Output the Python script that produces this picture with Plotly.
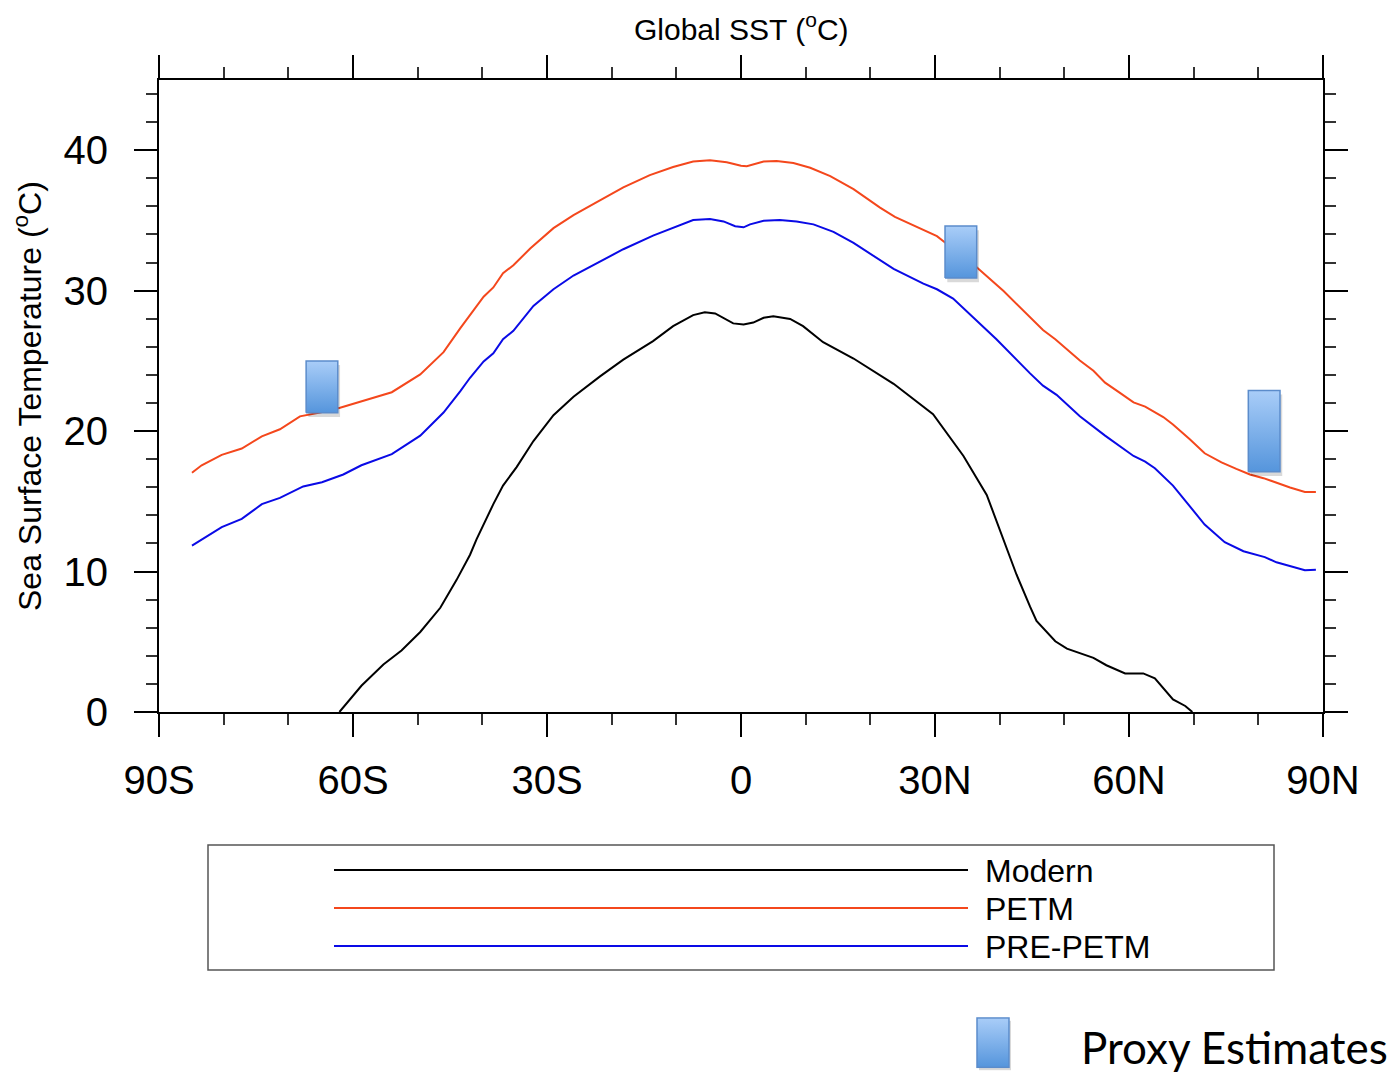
import base64
import plotly.graph_objects as go

# ---------------- data ----------------
petm_lat = [-84.9, -83.4, -80.3, -77.2, -74.1, -71.3, -68.2, -65.1, -62.0, -58.7, -54.0, -49.6, -46.0,
            -43.4, -41.9, -39.8, -38.3, -36.8, -35.2, -32.6, -29.0, -25.9, -22.3, -18.2, -14.1, -10.5,
            -7.4, -4.8, -2.2, 0.0, 0.9, 3.5, 5.5, 8.1, 10.7, 13.8, 17.4, 21.5, 23.8, 27.7, 30.3, 31.5,
            36.4, 40.6, 44.7, 46.7, 48.6, 50.4, 52.4, 54.5, 56.3, 58.6, 60.7, 62.5, 65.3, 66.8, 69.4,
            71.7, 74.3, 76.6, 78.7, 80.8, 82.8, 84.9, 87.2, 88.9]
petm_sst = [17.04, 17.57, 18.31, 18.76, 19.63, 20.13, 21.05, 21.32, 21.66, 22.11, 22.77, 24.04, 25.62,
            27.33, 28.3, 29.57, 30.23, 31.24, 31.81, 33.0, 34.45, 35.38, 36.30, 37.35, 38.23, 38.81,
            39.20, 39.28, 39.15, 38.89, 38.86, 39.20, 39.23, 39.09, 38.75, 38.15, 37.23, 35.91, 35.25,
            34.40, 33.88, 33.45, 31.69, 29.97, 28.08, 27.20, 26.54, 25.80, 25.03, 24.30, 23.45, 22.72,
            22.05, 21.74, 21.00, 20.47, 19.42, 18.42, 17.78, 17.31, 16.91, 16.65, 16.31, 15.99, 15.67,
            15.67]

pre_lat = [-84.9, -80.3, -77.2, -74.1, -71.3, -67.7, -64.8, -61.5, -58.7, -54.0, -49.6, -46.0, -43.4,
           -41.9, -39.8, -38.3, -36.8, -35.2, -32.1, -29.0, -25.9, -22.8, -18.2, -13.6, -9.4, -7.4,
           -4.8, -2.7, -0.9, 0.4, 1.4, 3.5, 6.0, 8.6, 11.2, 14.3, 17.4, 21.5, 23.6, 28.2, 30.3, 32.8,
           35.9, 39.5, 44.7, 46.7, 48.8, 52.4, 56.3, 60.7, 62.5, 64.0, 66.8, 69.4, 71.7, 74.8, 77.7,
           81.0, 82.8, 87.2, 88.9]
pre_sst = [11.85, 13.17, 13.75, 14.80, 15.25, 16.06, 16.36, 16.91, 17.57, 18.36, 19.68, 21.32, 22.85,
           23.8, 24.96, 25.54, 26.54, 27.14, 28.91, 30.10, 31.08, 31.81, 32.95, 33.92, 34.71, 35.03,
           35.11, 34.93, 34.59, 34.51, 34.72, 34.98, 35.03, 34.93, 34.72, 34.19, 33.40, 32.21, 31.55,
           30.50, 30.10, 29.44, 28.12, 26.54, 24.11, 23.24, 22.58, 21.06, 19.68, 18.23, 17.83, 17.36,
           16.12, 14.67, 13.35, 12.09, 11.45, 11.03, 10.66, 10.10, 10.13]

modern_lat = [-62.1, -58.7, -55.3, -52.5, -49.6, -46.5, -44.0, -41.9, -40.9, -38.3, -36.8, -34.7, -32.1,
              -29.0, -25.9, -21.8, -18.2, -13.6, -10.5, -7.4, -5.6, -4.0, -1.2, 0.4, 1.9, 3.5, 5.0,
              7.6, 9.6, 12.7, 17.4, 23.6, 29.7, 34.4, 38.0, 40.6, 42.6, 44.7, 45.7, 48.6, 50.4, 54.5,
              56.5, 59.4, 62.2, 64.0, 66.8, 68.7, 69.8]
modern_sst = [0.0, 1.87, 3.38, 4.38, 5.70, 7.42, 9.39, 11.2, 12.29, 14.80, 16.12, 17.44, 19.29,
              21.13, 22.45, 23.90, 25.09, 26.41, 27.47, 28.26, 28.46, 28.38, 27.67, 27.59, 27.73,
              28.07, 28.17, 27.99, 27.47, 26.33, 25.17, 23.37, 21.21, 18.23, 15.46, 12.29, 9.79, 7.50,
              6.49, 5.04, 4.51, 3.85, 3.33, 2.75, 2.75, 2.40, 0.90, 0.43, 0.0]

proxy_lat = [-64.8, 34.0, 80.9]
proxy_low = [21.3, 30.9, 17.1]
proxy_high = [25.0, 34.6, 22.9]

x_tickvals = [-90, -60, -30, 0, 30, 60, 90]
x_ticktext = ["90S", "60S", "30S", "0", "30N", "60N", "90N"]
y_tickvals = [0, 10, 20, 30, 40]

series_names = ["Modern", "PETM", "PRE-PETM"]
series_colors = ["#000000", "#f4471c", "#0a0ae6"]

# ---------------- layout geometry (page has an 8px body margin) ----------------
OFF = 8
W, H = 1395 - OFF, 1074 - OFF
PL, PR, PT, PB = 159, 1323, 80, 712          # plot area in page pixels
L, T = PL - OFF, PT - OFF
pw, ph = PR - PL, PB - PT
R = W - L - pw
B = H - T - ph


def px_x(p):
    return (p - PL) / pw


def px_y(p):
    return (PB - p) / ph


FONT = "Liberation Sans, Arial, sans-serif"

fig = go.Figure()

for lat, sst, name, col in zip([modern_lat, petm_lat, pre_lat], [modern_sst, petm_sst, pre_sst],
                               series_names, series_colors):
    fig.add_trace(go.Scatter(x=lat, y=sst, mode="lines", name=name,
                             line=dict(color=col, width=2), showlegend=False))

half_w = 2.45
grad = [[0, "#5595dc"], [1, "#a9cdf8"]]
for la, lo, hi in zip(proxy_lat, proxy_low, proxy_high):
    fig.add_trace(go.Scatter(
        x=[la - half_w + 0.35, la + half_w + 0.35, la + half_w + 0.35, la - half_w + 0.35, la - half_w + 0.35],
        y=[lo - 0.3, lo - 0.3, hi - 0.3, hi - 0.3, lo - 0.3],
        mode="lines", fill="toself", fillcolor="rgba(0,0,0,0.15)", line=dict(width=0),
        showlegend=False, hoverinfo="skip"))
    fig.add_trace(go.Scatter(
        x=[la - half_w, la + half_w, la + half_w, la - half_w, la - half_w],
        y=[lo, lo, hi, hi, lo],
        mode="lines", fill="toself",
        fillgradient=dict(type="vertical", colorscale=grad),
        line=dict(color="#5b8ccb", width=1.5), showlegend=False, name="Proxy Estimates"))

axis_common = dict(
    showline=True, linecolor="black", linewidth=2, mirror="ticks",
    ticks="outside", ticklen=23, tickwidth=2, tickcolor="black",
    showgrid=False, zeroline=False,
    tickfont=dict(family=FONT, size=40, color="black"),
)

fig.update_xaxes(range=[-90, 90], tickmode="array", tickvals=x_tickvals, ticktext=x_ticktext,
                 ticklabelstandoff=9,
                 minor=dict(ticks="outside", dtick=10, ticklen=11, tickwidth=1.5, tickcolor="#333",
                            showgrid=False),
                 **axis_common)
fig.update_yaxes(range=[0, 45], tickmode="array", tickvals=y_tickvals,
                 ticklabelstandoff=18,
                 minor=dict(ticks="outside", dtick=2, ticklen=11, tickwidth=1.5, tickcolor="#333",
                            showgrid=False),
                 **axis_common)

shapes = []
annotations = []

annotations.append(dict(text="Global SST (<sup>o</sup>C)", xref="paper", yref="paper",
                        x=px_x(741), y=px_y(27), xanchor="center", yanchor="middle", showarrow=False,
                        font=dict(family=FONT, size=30, color="black")))
annotations.append(dict(text="Sea Surface Temperature (<sup>o</sup>C)", xref="paper", yref="paper",
                        x=px_x(28), y=px_y(396), xanchor="center", yanchor="middle", textangle=-90,
                        showarrow=False,
                        font=dict(family=FONT, size=32, color="black")))

# legend box
shapes.append(dict(type="rect", xref="paper", yref="paper",
                   x0=px_x(208), x1=px_x(1274), y0=px_y(970), y1=px_y(845),
                   line=dict(color="#555555", width=1.5), fillcolor="white", layer="above"))
for i, (name, col) in enumerate(zip(series_names, series_colors)):
    yy = 870 + 38 * i
    shapes.append(dict(type="line", xref="paper", yref="paper",
                       x0=px_x(334), x1=px_x(968), y0=px_y(yy), y1=px_y(yy),
                       line=dict(color=col, width=2), layer="above"))
    annotations.append(dict(text=name, xref="paper", yref="paper", x=px_x(983), y=px_y(yy + 1),
                            xanchor="left", yanchor="middle", showarrow=False,
                            font=dict(family=FONT, size=32, color="black")))

# proxy legend icon (gradient via inline SVG)
svg = ('<svg xmlns="http://www.w3.org/2000/svg" width="40" height="60" viewBox="0 0 40 60">'
       '<defs><linearGradient id="g" x1="0" y1="0" x2="0" y2="1">'
       '<stop offset="0" stop-color="#a9cdf8"/><stop offset="1" stop-color="#5595dc"/>'
       '</linearGradient></defs>'
       '<rect x="3" y="4" width="32" height="52" fill="rgba(0,0,0,0.15)"/>'
       '<rect x="1" y="1" width="32" height="52" fill="url(#g)" stroke="#5b8ccb" stroke-width="1.5"/>'
       '</svg>')
src = "data:image/svg+xml;base64," + base64.b64encode(svg.encode()).decode()
images = [dict(source=src, xref="paper", yref="paper", x=px_x(976), y=px_y(1017),
               sizex=px_x(1016) - px_x(976), sizey=px_y(1017) - px_y(1074),
               xanchor="left", yanchor="top", sizing="stretch", layer="above")]
annotations.append(dict(text="Proxy Estimates", xref="paper", yref="paper", x=px_x(1079), y=px_y(1047),
                        xanchor="left", yanchor="middle", showarrow=False,
                        font=dict(family="Lato, Open Sans, sans-serif", size=44, color="black")))

fig.update_layout(
    width=W, height=H,
    margin=dict(l=L, r=R, t=T, b=B),
    paper_bgcolor="white", plot_bgcolor="white",
    showlegend=False,
    shapes=shapes, annotations=annotations, images=images,
)

fig.write_html("out.html")
